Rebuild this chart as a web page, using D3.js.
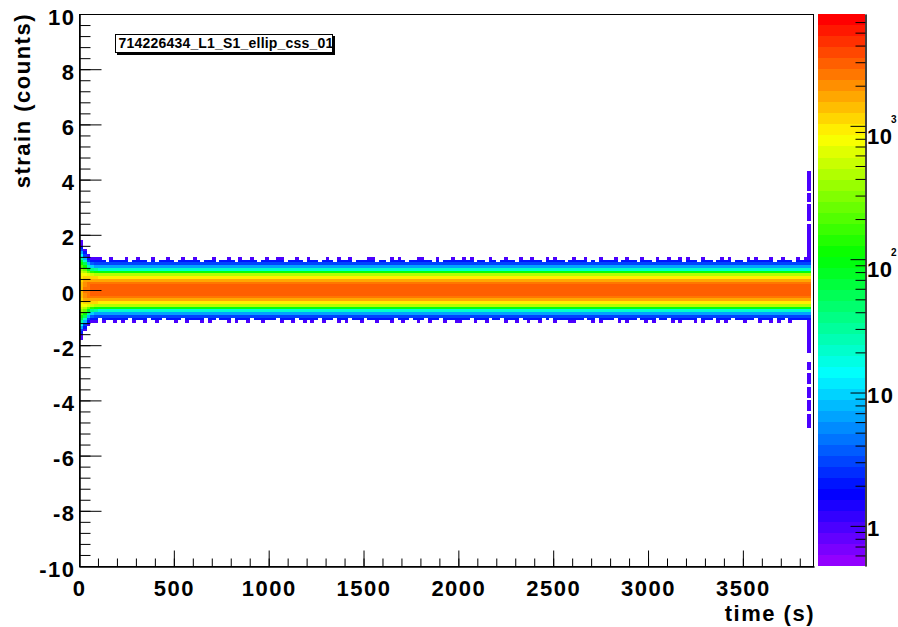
<!DOCTYPE html>
<html>
<head>
<meta charset="utf-8">
<script src="https://cdn.jsdelivr.net/npm/d3@7"></script>
<style>
  body { margin: 0; background: #fff; }
  svg { display: block; font-family: "Liberation Sans", Arial, Helvetica, sans-serif; font-weight: bold; }
</style>
</head>
<body>
<svg id="chart" width="898" height="627"></svg>
<script>
// ---- histogram binning ----
const timeBinWidth = 20;        // seconds per time bin
const strainBinWidth = 0.1;     // strain units per bin
const nTimeBins = 193;          // 0 .. 3860 s

// Steady-state column: counts in strain bins centred at 0.05, 0.15, ... 0.95 (mirrored below zero)
const steadyProfile = [3000, 2800, 2400, 1700, 1000, 400, 100, 22, 6, 3];

// Wider columns at the start of the run (first time bins), same convention
const startColumns = [
  [1500, 1450, 1350, 1200, 1000, 800, 550, 350, 200, 110, 60, 30, 15, 7, 3, 2, 1, 1],
  [2200, 2100, 1900, 1600, 1200, 800, 450, 230, 110, 50, 20, 8, 3, 2, 1],
  [2600, 2500, 2200, 1800, 1200, 650, 250, 80, 25, 8, 3, 2, 1],
  [2800, 2700, 2300, 1800, 1100, 500, 150, 40, 10, 4, 2, 1],
  [2900, 2750, 2350, 1750, 1050, 450, 120, 30, 7, 3, 2, 1]
];

// Outer edge per time bin: 0 = empty, 1 = two counts at |strain| 1.05, 2 = plus one count at 1.15
const edgeCounts = [2, 1];
const upperEdge =
  "1201121021" + "1120121102" + "0112101211" + "2101120112" + "1021121012" +
  "1122011210" + "2110121021" + "1201112201" + "1021210112" + "2110201121" +
  "1212011021" + "0121102112" + "1102121101" + "2112010211" + "1201211021" +
  "1021121120" + "2110211012" + "1201102121" + "1120121102" + "121";
const lowerEdge =
  "1021102112" + "1210211201" + "2101121021" + "1120210112" + "0211201121" +
  "1102112012" + "1210211021" + "2011201121" + "1120121012" + "1021102112" +
  "2110211201" + "1021120121" + "1201021112" + "2110120211" + "1021211012" +
  "1201102121" + "1120211021" + "2101121102" + "1120210211" + "112";

// Final time bin: single-count excursions (strain bin centres)
const spikeStrain = [
  1.15, 1.25, 1.35, 1.45, 1.55, 1.65, 1.75, 1.85, 1.95, 2.05, 2.15, 2.25, 2.35,
  2.55, 2.65, 2.75, 2.85, 2.95, 3.05, 3.25, 3.35, 3.45, 3.65, 3.75, 3.85, 3.95,
  4.05, 4.15, 4.25,
  -1.15, -1.25, -1.35, -1.45, -1.55, -1.65, -1.75, -1.85, -1.95, -2.05, -2.15, -2.25,
  -2.65, -2.75, -2.85, -3.05, -3.15, -3.25, -3.35, -3.55, -3.65, -3.75, -3.85,
  -4.05, -4.15, -4.25, -4.35, -4.55, -4.65, -4.75, -4.85, -4.95
];

// ---- axes ----
const xMajorTicks = [0, 500, 1000, 1500, 2000, 2500, 3000, 3500];
const yMajorTicks = [-10, -8, -6, -4, -2, 0, 2, 4, 6, 8, 10];
const zMajorTicks = [1, 10, 100, 1000];
const zMajorLabels = [["1", ""], ["10", ""], ["10", "2"], ["10", "3"]];
const zMinorTicks = [0.6, 0.7, 0.8, 0.9, 2, 3, 4, 5, 6, 7, 8, 9, 20, 30, 40, 50, 60, 70, 80, 90,
                     200, 300, 400, 500, 600, 700, 800, 900, 2000, 3000, 4000, 5000, 6000];
const zRange = [0.5, 6900];
const runLabel = "714226434_L1_S1_ellip_css_01";

const svg = d3.select("#chart");
const X0 = 79, X1 = 814, Y0 = 14, Y1 = 566;
const x = d3.scaleLinear().domain([0, 3875]).range([X0, X1]);
const y = d3.scaleLinear().domain([-10, 10]).range([Y1, Y0]);
const z = d3.scaleLog().domain(zRange).range([Y1, Y0]);

// 50-step rainbow palette, violet (low) to red (high)
const nColors = 50;
const palette = d3.range(nColors).map(i => d3.hsl(280 - (i + 1) * (280 / nColors), 1, 0.5).formatHex());
const lzMin = Math.log10(zRange[0]), lzMax = Math.log10(zRange[1]);
function colorOf(v) {
  const k = Math.floor(nColors * (Math.log10(v) - lzMin) / (lzMax - lzMin));
  return palette[Math.max(0, Math.min(nColors - 1, k))];
}

// ---- build cells ----
const cells = [];
for (let i = 0; i < nTimeBins; i++) {
  const prof = i < startColumns.length ? startColumns[i] : steadyProfile;
  prof.forEach((v, k) => {
    if (v > 0) {
      cells.push({ i, k, v });          // strain bin k  (+)
      cells.push({ i, k: -k - 1, v });  // mirrored bin  (-)
    }
  });
  if (i >= startColumns.length) {
    const u = +upperEdge[i], l = +lowerEdge[i];
    if (u >= 1) cells.push({ i, k: 10, v: edgeCounts[0] });
    if (u >= 2) cells.push({ i, k: 11, v: edgeCounts[1] });
    if (l >= 1) cells.push({ i, k: -11, v: edgeCounts[0] });
    if (l >= 2) cells.push({ i, k: -12, v: edgeCounts[1] });
  }
}
spikeStrain.forEach(s => {
  cells.push({ i: nTimeBins - 1, k: Math.floor(s / strainBinWidth), v: 1 });
});

const gCells = svg.append("g").attr("shape-rendering", "crispEdges");
gCells.selectAll("rect").data(cells).join("rect")
  .attr("x", d => x(d.i * timeBinWidth))
  .attr("width", d => x((d.i + 1) * timeBinWidth) - x(d.i * timeBinWidth))
  .attr("y", d => y((d.k + 1) * strainBinWidth))
  .attr("height", d => y(d.k * strainBinWidth) - y((d.k + 1) * strainBinWidth))
  .attr("fill", d => colorOf(d.v));

// ---- frame ----
svg.append("rect")
  .attr("x", X0 + 0.5).attr("y", Y0 + 0.5)
  .attr("width", X1 - X0 - 1).attr("height", Y1 - Y0)
  .attr("fill", "none").attr("stroke", "#000").attr("stroke-width", 1);

function styleAxis(g) {
  g.attr("font-family", null).attr("font-size", null);
  g.selectAll("line").attr("stroke", "#000").attr("stroke-width", 1);
  g.selectAll("path.domain").attr("stroke", "#000");
  g.selectAll("text").attr("fill", "#000")
    .style("font-size", "22px").style("letter-spacing", "1.5px");
}

// y axis: minor every 0.4, major every 2
svg.append("g").attr("transform", `translate(${X0 + 0.5},0)`)
  .call(d3.axisLeft(y).tickValues(d3.range(-10, 10.01, 0.4)).tickSizeInner(-11).tickSizeOuter(0).tickFormat(""))
  .call(styleAxis);
svg.append("g").attr("transform", `translate(${X0 + 0.5},0)`)
  .call(d3.axisLeft(y).tickValues(yMajorTicks).tickSizeInner(-22).tickSizeOuter(0).tickPadding(4).tickFormat(d3.format("d")))
  .call(styleAxis)
  .call(g => g.selectAll("text").attr("dy", "10px").text(d => String(d)));

// x axis: minor every 100 s, major every 500 s
svg.append("g").attr("transform", `translate(0,${Y1 + 0.5})`)
  .call(d3.axisBottom(x).tickValues(d3.range(0, 3875, 100)).tickSizeInner(-8).tickSizeOuter(0).tickFormat(""))
  .call(styleAxis);
svg.append("g").attr("transform", `translate(0,${Y1 + 0.5})`)
  .call(d3.axisBottom(x).tickValues(xMajorTicks).tickSizeInner(-16).tickSizeOuter(0).tickPadding(14).tickFormat(d3.format("d")))
  .call(styleAxis);

// axis titles
svg.append("text")
  .attr("x", X1 + 1).attr("y", 621)
  .attr("text-anchor", "end")
  .style("font-size", "22px").style("letter-spacing", "1.5px")
  .text("time (s)");
svg.append("text")
  .attr("transform", `translate(30,${Y0 - 1}) rotate(-90)`)
  .attr("text-anchor", "end")
  .style("font-size", "22px").style("letter-spacing", "1.5px")
  .text("strain (counts)");

// ---- colour bar ----
const CB0 = 818, CB1 = 865;
const dl = (lzMax - lzMin) / nColors;
svg.append("g").attr("shape-rendering", "crispEdges")
  .selectAll("rect").data(palette).join("rect")
  .attr("x", CB0).attr("width", CB1 - CB0)
  .attr("y", (c, k) => z(Math.pow(10, lzMin + (k + 1) * dl)))
  .attr("height", (c, k) => z(Math.pow(10, lzMin + k * dl)) - z(Math.pow(10, lzMin + (k + 1) * dl)))
  .attr("fill", c => c);

svg.append("g").attr("transform", `translate(${CB1 + 0.5},0)`)
  .call(d3.axisRight(z).tickValues(zMinorTicks).tickSizeInner(-10).tickSizeOuter(0).tickFormat(""))
  .call(styleAxis);
svg.append("g").attr("transform", `translate(${CB1 + 0.5},0)`)
  .call(d3.axisRight(z).tickValues(zMajorTicks).tickSizeInner(-15).tickSizeOuter(0).tickFormat(""))
  .call(styleAxis);

const zl = svg.append("g");
zMajorTicks.forEach((v, j) => {
  const [base, exp] = zMajorLabels[j];
  const ty = z(v);
  zl.append("text")
    .attr("x", 867).attr("y", ty + (exp ? 18 : 10))
    .style("font-size", "22px").style("letter-spacing", exp ? "0.5px" : "1.5px")
    .text(base);
  if (exp) {
    zl.append("text")
      .attr("x", 891).attr("y", ty - 3)
      .style("font-size", "10px")
      .text(exp);
  }
});

// ---- run label box ----
const lb = svg.append("g");
lb.append("rect").attr("x", 117).attr("y", 36).attr("width", 218).attr("height", 19).attr("fill", "#000");
lb.append("rect").attr("x", 115.5).attr("y", 34.5).attr("width", 217).attr("height", 18)
  .attr("fill", "#fff").attr("stroke", "#000").attr("stroke-width", 1);
lb.append("text").attr("x", 118.5).attr("y", 48)
  .style("font-size", "14px").style("letter-spacing", "0.2px")
  .text(runLabel);
</script>
</body>
</html>
